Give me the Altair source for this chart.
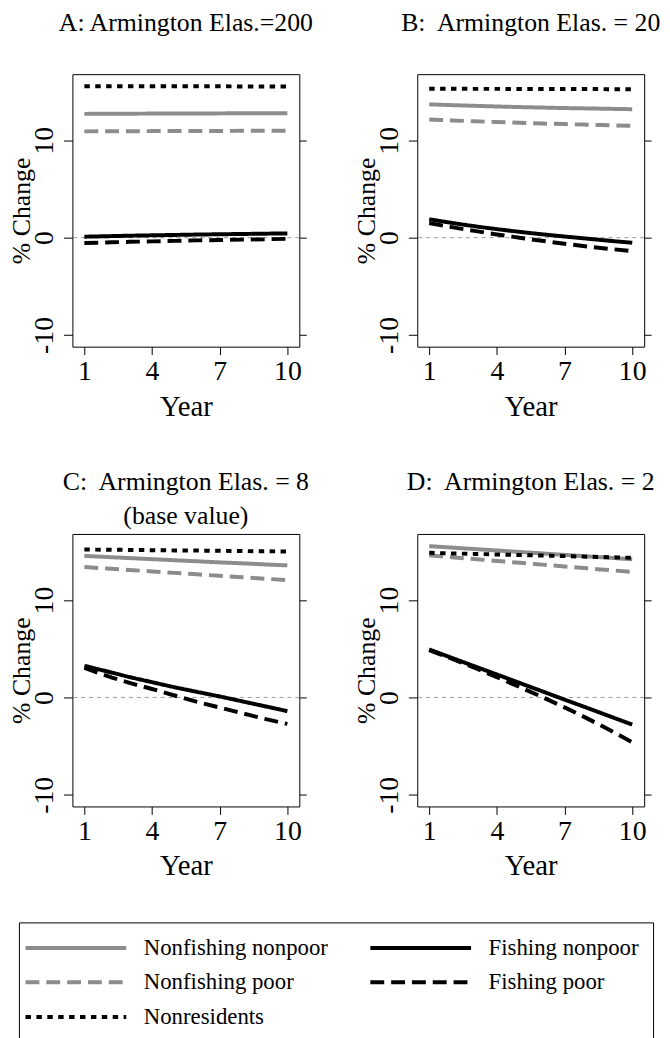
import altair as alt
import pandas as pd

FONT = "Liberation Serif"
GRAY = "#8c8c8c"
BLACK = "#000000"

YEARS = [1, 2, 3, 4, 5, 6, 7, 8, 9, 10]
SERIES = ["Nonfishing nonpoor", "Nonfishing poor", "Nonresidents", "Fishing nonpoor", "Fishing poor"]
X_TICKS = [1, 4, 7, 10]
Y_TICKS = [-10, 0, 10]

# Panel A: Armington elasticity = 200
A_NFNP = [12.72, 12.73, 12.74, 12.75, 12.76, 12.76, 12.77, 12.78, 12.78, 12.79]
A_NFP = [10.92, 10.93, 10.94, 10.95, 10.96, 10.97, 10.97, 10.98, 10.98, 10.99]
A_NR = [15.56, 15.56, 15.55, 15.55, 15.55, 15.55, 15.55, 15.54, 15.54, 15.54]
A_FNP = [0.10, 0.15, 0.20, 0.24, 0.28, 0.32, 0.35, 0.38, 0.41, 0.44]
A_FP = [-0.55, -0.49, -0.43, -0.38, -0.33, -0.28, -0.24, -0.20, -0.16, -0.12]

# Panel B: = 20
B_NFNP = [13.70, 13.62, 13.55, 13.48, 13.42, 13.37, 13.32, 13.28, 13.24, 13.20]
B_NFP = [12.15, 12.05, 11.96, 11.88, 11.80, 11.73, 11.67, 11.61, 11.55, 11.50]
B_NR = [15.30, 15.30, 15.29, 15.29, 15.28, 15.28, 15.27, 15.27, 15.26, 15.26]
B_FNP = [1.89, 1.52, 1.18, 0.88, 0.60, 0.35, 0.12, -0.10, -0.32, -0.52]
B_FP = [1.50, 1.08, 0.70, 0.33, 0.00, -0.32, -0.62, -0.90, -1.15, -1.38]

# Panel C: = 8 (base value)
C_NFNP = [14.55, 14.43, 14.32, 14.21, 14.10, 13.99, 13.88, 13.78, 13.67, 13.57]
C_NFP = [13.40, 13.25, 13.10, 12.95, 12.80, 12.65, 12.50, 12.35, 12.20, 12.06]
C_NR = [15.20, 15.18, 15.16, 15.13, 15.11, 15.09, 15.07, 15.04, 15.02, 15.00]
C_FNP = [3.25, 2.68, 2.10, 1.57, 1.05, 0.57, 0.10, -0.40, -0.90, -1.41]
C_FP = [3.05, 2.22, 1.50, 0.87, 0.20, -0.45, -1.04, -1.62, -2.20, -2.72]

# Panel D: = 2
D_NFNP = [15.55, 15.40, 15.25, 15.10, 14.95, 14.80, 14.65, 14.50, 14.35, 14.20]
D_NFP = [14.60, 14.41, 14.22, 14.03, 13.84, 13.65, 13.46, 13.27, 13.08, 12.90]
D_NR = [14.86, 14.80, 14.75, 14.69, 14.63, 14.58, 14.52, 14.46, 14.41, 14.35]
D_FNP = [4.93, 4.07, 3.21, 2.36, 1.50, 0.64, -0.22, -1.07, -1.93, -2.79]
D_FP = [4.86, 3.98, 3.05, 2.08, 1.08, 0.05, -1.02, -2.15, -3.35, -4.60]

PANELS = {
    "A": [A_NFNP, A_NFP, A_NR, A_FNP, A_FP],
    "B": [B_NFNP, B_NFP, B_NR, B_FNP, B_FP],
    "C": [C_NFNP, C_NFP, C_NR, C_FNP, C_FP],
    "D": [D_NFNP, D_NFP, D_NR, D_FNP, D_FP],
}
TITLES = {
    "A": "A: Armington Elas.=200",
    "B": "B:\u00a0 Armington Elas. = 20",
    "C": ["C:\u00a0 Armington Elas. = 8", "(base value)"],
    "D": "D:\u00a0 Armington Elas. = 2",
}
TITLE_OFFSETS = {"A": 39, "B": 39, "C": 5, "D": 39}
ZERO = [0]

rows = []
for key, data in PANELS.items():
    for s, vals in zip(SERIES, data):
        for yr, v in zip(YEARS, vals):
            rows.append({"panel": key, "series": s, "year": yr, "value": v})
df = pd.DataFrame(rows)
zero_df = pd.DataFrame({"v": ZERO})

XDOM = [0.47, 10.53]
YDOM = [-11.2, 16.8]

legend = alt.Legend(
    title=None, orient="none", legendX=-54, legendY=856, columns=2,
    columnPadding=34, rowPadding=11, symbolType="M-5.35,0L5.35,0", symbolSize=361,
    symbolStrokeWidth=4, symbolOffset=32, labelOffset=57,
    labelFont=FONT, labelFontSize=23, labelColor="black", labelLimit=400,
    strokeColor="black", padding=14,
)

color_scale = alt.Scale(domain=SERIES, range=[GRAY, GRAY, BLACK, BLACK, BLACK])
dash_scale = alt.Scale(domain=SERIES, range=[[1, 0], [14, 7], [5.5, 5.5], [1, 0], [14, 7]])


def panel(key):
    d = df[df.panel == key]
    lines = alt.Chart(d).mark_line(strokeWidth=4, interpolate="monotone").encode(
        x=alt.X("year:Q", scale=alt.Scale(domain=XDOM, nice=False, zero=False),
                axis=alt.Axis(values=X_TICKS, title="Year", labelPadding=3, titlePadding=7,
                              titleFontSize=29)),
        y=alt.Y("value:Q", scale=alt.Scale(domain=YDOM, nice=False, zero=False),
                axis=alt.Axis(orient="left", values=Y_TICKS, title="% Change", labelAngle=-90,
                              labelAlign="center", labelBaseline="bottom", labelPadding=5,
                              titlePadding=-4, tickSize=9, titleFontSize=26,
                              labelExpr="'' + datum.value")),
        color=alt.Color("series:N", scale=color_scale, legend=legend),
        strokeDash=alt.StrokeDash("series:N", scale=dash_scale, legend=legend),
    )
    zero = alt.Chart(zero_df).mark_rule(color="#999999", strokeWidth=1, strokeDash=[4, 4]).encode(
        y=alt.Y("v:Q", scale=alt.Scale(domain=YDOM, nice=False, zero=False),
                axis=alt.Axis(orient="right", values=Y_TICKS, labels=False, title=None, tickSize=7)),
    )
    title_kw = dict(text=TITLES[key], anchor="middle", frame="group",
                    offset=TITLE_OFFSETS[key], font=FONT, fontSize=26,
                    fontWeight="normal", color="black")
    if isinstance(TITLES[key], list):
        title_kw["lineHeight"] = 34
    return alt.layer(zero, lines).resolve_scale(y="independent").properties(
        width=229, height=275, title=alt.TitleParams(**title_kw),
    )


chart = alt.concat(
    panel("A"), panel("B"), panel("C"), panel("D"),
    columns=2, spacing={"row": 189, "column": 119}, bounds="flush",
).properties(padding={"top": -4, "left": 0, "right": 0, "bottom": 0}).configure(font=FONT).configure_view(
    stroke="black", strokeWidth=1
).configure_axis(
    domain=False, grid=False, tickColor="black", tickWidth=1, tickSize=8,
    labelFont=FONT, labelFontSize=28, labelColor="black",
    titleFont=FONT, titleFontSize=26, titleFontWeight="normal", titleColor="black",
    labelFlush=False, labelOverlap=False,
)

chart.save("out.html", embed_options={"renderer": "svg", "actions": False})
